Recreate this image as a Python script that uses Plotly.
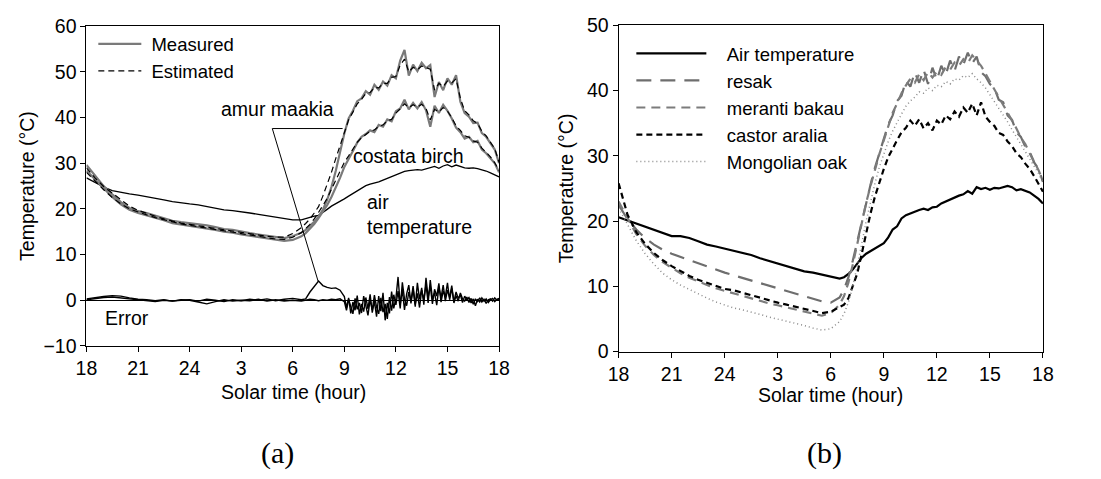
import plotly.graph_objects as go

# ---------------- shared x grid (hours after 18:00 solar time) ----------------
HOURS = [0, 0.5, 1, 1.5, 2, 2.5, 3, 3.5, 4, 4.5, 5, 5.5, 6, 6.5, 7, 7.5, 8, 8.5, 9, 9.5,
         10, 10.5, 11, 11.5, 12, 12.5,
         12.75, 13, 13.25, 13.5, 13.75, 14, 14.25, 14.5, 14.75,
         15, 15.25, 15.5, 15.75, 16, 16.25, 16.5, 16.75, 17, 17.25, 17.5, 17.75, 18,
         18.25, 18.5, 18.75, 19, 19.25, 19.5, 19.75, 20, 20.25, 20.5, 20.75, 21,
         21.25, 21.5, 21.75, 22, 22.25, 22.5, 22.75, 23, 23.25, 23.5, 23.75, 24]
# finer grid used for the (very noisy) error curves after 15 h
ERR_HOURS = HOURS[:35] + [
    15, 15.125, 15.25, 15.375, 15.5, 15.625, 15.75, 15.875,
    16, 16.125, 16.25, 16.375, 16.5, 16.625, 16.75, 16.875,
    17, 17.125, 17.25, 17.375, 17.5, 17.625, 17.75, 17.875,
    18, 18.125, 18.25, 18.375, 18.5, 18.625, 18.75, 18.875,
    19, 19.125, 19.25, 19.375, 19.5, 19.625, 19.75, 19.875,
    20, 20.125, 20.25, 20.375, 20.5, 20.625, 20.75, 20.875,
    21, 21.125, 21.25, 21.375, 21.5, 21.625, 21.75, 21.875,
    22, 22.125, 22.25, 22.375, 22.5, 22.625, 22.75, 22.875,
    23, 23.125, 23.25, 23.375, 23.5, 23.625, 23.75, 23.875,
    24]
TICK_POS = [0, 3, 6, 9, 12, 15, 18, 21, 24]
TICK_TEXT = ["18", "21", "24", "3", "6", "9", "12", "15", "18"]

# ---------------- panel (a) ----------------
A_AIR = [26.8, 25.8, 24.8, 24.0, 23.6, 23.3, 23.0, 22.7, 22.3, 22.0, 21.6, 21.3, 21.1, 20.9,
         20.5, 20.1, 19.8, 19.6, 19.4, 19.1, 18.8, 18.5, 18.2, 17.8, 17.6, 17.6,
         17.9, 18.2, 18.4, 18.6, 19.2, 19.9, 20.6, 21.1, 21.7,
         22.2, 22.8, 23.4, 24.0, 24.6, 25.1, 25.4, 25.6, 25.9, 26.3, 26.7, 27.1, 27.5,
         27.9, 28.2, 28.4, 28.5, 28.6, 28.5, 28.8, 29.1, 29.3, 28.9, 29.4, 29.7, 29.2,
         29.6, 29.3, 29.0, 28.9, 29.0, 28.8, 28.6, 28.3, 27.9, 27.4, 27.0]
A_AMUR_MEAS = [29.6, 27.2, 25.0, 23.2, 21.5, 20.2, 19.5, 19.1, 18.5, 17.9, 17.4, 17.1, 16.9,
               16.6, 16.4, 16.0, 15.6, 15.4, 15.0, 14.7, 14.4, 14.1, 13.9, 13.6, 14.0, 14.8,
               15.4, 16.2, 17.2, 18.3, 19.8, 22.0, 24.8, 28.3, 32.5,
               36.5, 39.8, 41.5, 43.6, 44.2, 45.8, 45.0, 47.2, 46.1, 47.9, 47.0, 49.3, 48.6,
               52.5, 54.8, 49.2, 51.6, 50.2, 52.0, 50.8, 51.5, 44.5, 47.8, 46.0, 48.6, 47.2,
               49.3, 43.5, 41.0, 40.2, 38.8, 38.9, 36.6, 35.8, 34.5, 33.0, 30.0]
A_AMUR_EST = [29.0, 26.8, 24.9, 23.4, 21.9, 20.6, 19.7, 19.0, 18.4, 17.8, 17.3, 16.9, 16.6,
              16.3, 16.0, 15.7, 15.4, 15.1, 14.8, 14.5, 14.2, 14.0, 13.8, 13.8, 14.6, 15.9,
              16.8, 17.8, 19.1, 20.5, 22.8, 25.3, 28.0, 31.0, 34.0,
              36.8, 39.5, 41.2, 43.0, 44.0, 45.3, 45.5, 46.6, 46.5, 47.5, 47.5, 48.8, 49.0,
              51.5, 52.8, 50.0, 51.0, 50.5, 51.3, 50.9, 50.6, 46.0, 47.5, 46.8, 48.0, 47.6,
              48.5, 44.2, 41.5, 40.6, 39.3, 38.7, 37.0, 36.0, 34.6, 33.2, 30.2]
A_BIRCH_MEAS = [28.4, 26.4, 24.5, 22.6, 21.0, 19.8, 19.1, 18.6, 18.0, 17.5, 16.9, 16.6, 16.4,
                16.1, 15.8, 15.4, 15.0, 14.8, 14.4, 14.1, 13.8, 13.5, 13.2, 13.0, 13.2, 14.0,
                14.7, 15.6, 16.7, 18.0, 19.4, 20.8, 22.6, 24.6, 26.8,
                29.2, 30.8, 32.7, 34.5, 35.8, 36.4, 37.2, 36.8, 38.4, 38.0, 39.6, 39.2, 41.4,
                42.0, 43.9, 41.8, 43.2, 42.0, 43.4, 41.6, 38.0, 42.6, 41.0, 42.8, 41.5, 39.8,
                37.8, 36.8, 35.4, 35.8, 34.6, 34.9, 33.0, 32.2, 31.2, 30.0, 28.0]
A_BIRCH_EST = [28.0, 26.0, 24.2, 22.5, 21.1, 20.0, 19.3, 18.7, 18.1, 17.6, 17.1, 16.7, 16.4,
               16.1, 15.8, 15.5, 15.2, 14.9, 14.6, 14.3, 14.0, 13.7, 13.4, 13.3, 13.8, 14.8,
               15.6, 16.6, 17.8, 19.2, 20.7, 22.3, 24.2, 26.2, 28.2,
               30.2, 31.6, 33.2, 34.6, 35.6, 36.4, 37.0, 37.3, 38.1, 38.4, 39.3, 39.6, 41.0,
               41.9, 43.0, 42.2, 42.8, 42.3, 42.9, 42.0, 39.5, 41.8, 41.2, 42.2, 41.4, 40.0,
               38.2, 37.2, 36.0, 35.7, 34.9, 34.6, 33.3, 32.4, 31.4, 30.1, 28.4]
A_ERR_AMUR = [0.3, 0.6, 0.8, 1.0, 0.9, 0.5, 0.2, 0.1, -0.1, 0.1, -0.2, 0.0, 0.1, -0.2, 0.2,
              0.0, -0.3, 0.1, -0.1, 0.2, 0.0, 0.3, -0.1, 0.2, 0.4, 0.1,
              0.3, 1.8, 3.0, 4.2, 3.2, 2.8, 2.6, 2.7, 2.2,
              0.8, -1.6, 0.5, -2.9, -0.4, -2.2, 1.0, -3.1,
              -0.8, -2.5, 0.6, -1.9, 1.3, -2.7, -0.2, -3.6,
              0.9, -2.4, 1.6, -4.4, -0.6, -2.9, 1.9, -1.8,
              0.4, 5.1, -0.9, 2.2, -2.1, 1.4, 3.3, -0.7,
              2.5, -1.4, 3.8, 0.2, 2.7, -1.0, 4.9, 0.6,
              3.1, -0.8, 2.4, 0.9, 3.7, -0.4, 2.0, 0.8,
              3.8, 0.1, 2.6, -0.3, 1.8, 0.4, 1.2, -0.5,
              0.9, 0.1, 0.6, -0.6, 0.3, -1.2, 0.2, -0.4,
              0.5, -0.2, 0.3, -0.5, 0.1, 0.4, -0.3, 0.2,
              0.4]
A_ERR_BIRCH = [0.1, 0.4, 0.6, 0.7, 0.5, 0.3, 0.0, -0.2, -0.3, 0.0, -0.2, 0.1, 0.0, -0.4, -0.8,
               -0.3, 0.1, -0.2, 0.0, -0.1, 0.2, -0.2, 0.1, -0.2, 0.0, -0.2,
               0.0, 0.2, 0.1, -0.1, 0.1, 0.0, 0.2, 0.1, 0.3,
               -0.3, -2.2, 0.2, -1.4, -3.0, 0.4, -2.0, -0.6,
               -2.8, 0.9, -1.2, -3.3, 0.2, -2.1, 1.1, -1.5,
               -3.0, 0.5, -2.6, -0.8, -4.1, 0.7, -2.3, 1.2,
               -1.0, 2.0, -1.8, 3.9, 0.3, -1.2, 1.8, -0.3,
               3.1, -0.9, 1.5, -1.6, 2.2, 0.1, 3.4, -0.6,
               4.4, 0.3, 1.6, -1.1, 2.8, 0.5, 3.3, -0.2,
               2.2, 0.6, 3.2, -0.6, 1.0, -0.2, 1.6, 0.3,
               -0.2, 0.7, -0.5, 0.4, -0.9, 0.3, -0.3, 0.5,
               -0.4, 0.2, -0.7, 0.1, 0.3, -0.2, 0.5, 0.0,
               0.3]

# ---------------- panel (b) ----------------
B_AIR = [20.6, 20.1, 19.6, 19.1, 18.6, 18.1, 17.7, 17.7, 17.4, 16.9, 16.4, 16.1, 15.8, 15.5,
         15.2, 14.8, 14.3, 13.9, 13.5, 13.1, 12.7, 12.3, 12.1, 11.8, 11.6, 11.2,
         11.4, 11.9, 12.6, 13.5, 14.4, 15.0, 15.4, 15.7, 16.1,
         16.6, 17.5, 18.7, 19.2, 20.4, 20.9, 21.2, 21.5, 21.7, 21.9, 21.7, 22.1, 22.2,
         22.7, 23.0, 23.3, 23.7, 23.9, 24.1, 24.6, 24.2, 25.2, 24.9, 25.1, 24.8, 25.1,
         25.0, 25.2, 25.4, 25.2, 24.7, 24.9, 24.7, 24.4, 23.9, 23.4, 22.7]
B_RESAK = [22.5, 20.3, 18.7, 17.4, 16.4, 15.6, 15.0, 14.5, 14.0, 13.5, 13.0, 12.5, 12.1, 11.7,
           11.3, 10.9, 10.5, 10.1, 9.7, 9.3, 8.9, 8.5, 8.1, 7.7, 7.5, 8.3,
           9.5, 11.4, 14.0, 17.0, 20.0, 23.0, 25.6, 28.2, 30.5,
           32.6, 34.8, 36.2, 38.4, 39.2, 41.5, 40.6, 42.8, 41.2, 43.2, 41.0, 43.5, 41.6,
           43.8, 42.4, 44.6, 43.0, 45.2, 44.0, 45.8, 44.2, 45.2, 42.8, 42.2, 41.0, 40.4,
           38.6, 38.2, 36.2, 35.5, 33.6, 32.9, 31.4, 30.6, 29.0, 28.0, 26.0]
B_MERANTI = [23.0, 20.4, 18.0, 16.2, 14.8, 13.7, 12.8, 12.0, 11.3, 10.7, 10.2, 9.7, 9.3, 8.9,
             8.6, 8.2, 7.8, 7.4, 7.1, 6.8, 6.5, 6.1, 5.8, 5.5, 5.9, 7.2,
             8.5, 10.6, 13.4, 16.6, 19.8, 22.8, 25.4, 28.0, 30.3,
             32.4, 34.5, 36.6, 38.0, 39.6, 40.8, 41.8, 41.2, 42.5, 41.6, 42.8, 42.0, 42.9,
             42.4, 43.6, 43.2, 44.3, 43.8, 44.8, 44.2, 45.4, 44.6, 43.8, 42.6, 41.4, 40.4,
             39.2, 37.9, 36.8, 35.4, 34.2, 32.8, 31.8, 30.4, 29.2, 27.8, 26.2]
B_CASTOR = [25.8, 21.0, 18.3, 16.5, 15.1, 14.0, 13.1, 12.3, 11.6, 11.0, 10.5, 10.0, 9.6, 9.4,
            9.0, 8.6, 8.2, 7.8, 7.5, 7.2, 6.9, 6.5, 6.2, 5.9, 6.1, 6.8,
            7.2, 8.2, 10.0, 12.0, 15.0, 18.2, 21.2, 23.8, 26.0,
            28.0, 29.8, 31.2, 32.4, 33.6, 34.3, 35.4, 34.6, 35.6, 34.2, 35.0, 33.9, 35.4,
            34.8, 36.2, 35.6, 36.8, 36.0, 37.4, 36.6, 38.0, 36.2, 38.2, 36.0, 35.2, 34.6,
            33.5, 33.2, 32.2, 31.5, 30.4, 29.8, 28.8, 28.0, 26.9, 25.8, 24.5]
B_OAK = [22.0, 19.4, 17.0, 15.0, 13.4, 12.0, 11.0, 10.2, 9.5, 8.8, 8.2, 7.6, 7.1, 6.7,
         6.4, 6.1, 5.7, 5.3, 5.0, 4.6, 4.3, 4.0, 3.6, 3.3, 3.5, 4.6,
         5.8, 7.6, 10.0, 13.0, 16.5, 20.0, 23.0, 25.8, 28.3,
         30.4, 32.2, 33.8, 35.2, 36.4, 37.6, 38.4, 39.0, 39.8, 39.6, 40.4, 40.0, 40.8,
         40.6, 41.4, 41.0, 41.8, 41.6, 42.3, 42.0, 42.6, 41.8, 41.2, 40.4, 39.4, 38.4,
         37.4, 36.3, 35.2, 34.0, 32.9, 31.8, 30.8, 29.7, 28.6, 27.3, 25.8]

FONT = "Liberation Sans, Arial, sans-serif"
SERIF = "Liberation Serif, Times New Roman, serif"
FS = 19.5
LFS = 18.5
GRAY = "#7a7a7a"
NB = "\u00a0"

fig = go.Figure()

def add(x, y, xa, ya, color, width, dash="solid", name=None, legend=None, show=False):
    fig.add_trace(go.Scatter(x=x, y=y, xaxis=xa, yaxis=ya, mode="lines",
                             line=dict(color=color, width=width, dash=dash),
                             name=name, showlegend=show, legend=legend,
                             hoverinfo="skip"))

# panel (a)
add(HOURS, A_AIR, "x", "y", "black", 1.3)
add(ERR_HOURS, A_ERR_BIRCH, "x", "y", "black", 1.4)
add(ERR_HOURS, A_ERR_AMUR, "x", "y", "black", 1.4)
add(HOURS, A_BIRCH_MEAS, "x", "y", GRAY, 2.2)
add(HOURS, A_AMUR_MEAS, "x", "y", GRAY, 2.2, name=NB + "Measured", legend="legend", show=True)
add(HOURS, A_BIRCH_EST, "x", "y", "black", 1.2, dash="6px,4px")
add(HOURS, A_AMUR_EST, "x", "y", "black", 1.2, dash="6px,4px", name=NB + "Estimated",
    legend="legend", show=True)

# panel (b)
pad = NB * 3
add(HOURS, B_AIR, "x2", "y2", "black", 2.2, name=pad + "Air temperature", legend="legend2", show=True)
add(HOURS, B_RESAK, "x2", "y2", "#6e6e6e", 2.2, dash="15px,9px", name=pad + "resak",
    legend="legend2", show=True)
add(HOURS, B_MERANTI, "x2", "y2", "#7c7c7c", 2.2, dash="9px,6px", name=pad + "meranti bakau",
    legend="legend2", show=True)
add(HOURS, B_CASTOR, "x2", "y2", "black", 2.2, dash="6px,4px", name=pad + "castor aralia",
    legend="legend2", show=True)
add(HOURS, B_OAK, "x2", "y2", "#8a8a8a", 1.5, dash="1px,3px", name=pad + "Mongolian oak",
    legend="legend2", show=True)

W, H = 1101, 479
def px_x(p):
    return p / W
def px_y(p):
    return 1 - p / H

axis_common = dict(showline=True, linecolor="black", linewidth=1, mirror=True,
                   ticks="outside", ticklen=5, tickwidth=1, tickcolor="black",
                   showgrid=False, zeroline=False,
                   tickfont=dict(family=FONT, size=FS, color="black"),
                   title_font=dict(family=FONT, size=FS, color="black"))

fig.update_layout(
    width=W, height=H,
    margin=dict(l=0, r=0, t=0, b=0),
    paper_bgcolor="white", plot_bgcolor="white",
    font=dict(family=FONT, size=FS, color="black"),
    xaxis=dict(domain=[px_x(77), px_x(498)], range=[0, 24], tickvals=TICK_POS,
               ticktext=TICK_TEXT, anchor="y", **axis_common),
    yaxis=dict(domain=[px_y(351), px_y(16)], range=[-10, 60], dtick=10, anchor="x",
               title=dict(text="Temperature (°C)", standoff=3), **axis_common),
    xaxis2=dict(domain=[px_x(620), px_x(1053)], range=[0, 24], tickvals=TICK_POS,
                ticktext=TICK_TEXT, anchor="y2", **axis_common),
    yaxis2=dict(domain=[px_y(357), px_y(15)], range=[0, 50], dtick=10, anchor="x2",
                title=dict(text="Temperature (°C)", standoff=8), **axis_common),
    legend=dict(x=px_x(84), y=px_y(15), xanchor="left", yanchor="top",
                bgcolor="rgba(0,0,0,0)", itemwidth=43, tracegroupgap=0,
                font=dict(family=FONT, size=LFS, color="black")),
    legend2=dict(x=px_x(633), y=px_y(25), xanchor="left", yanchor="top",
                 bgcolor="rgba(0,0,0,0)", itemwidth=70, tracegroupgap=0,
                 font=dict(family=FONT, size=LFS, color="black")),
)
fig.layout.yaxis.zeroline = True
fig.layout.yaxis.zerolinecolor = "black"
fig.layout.yaxis.zerolinewidth = 1

# annotation pointer lines for amur maakia
fig.add_shape(type="line", xref="x", yref="y", x0=10.81, y0=37.6, x1=14.9, y1=37.6,
              line=dict(color="black", width=1))
fig.add_shape(type="line", xref="x", yref="y", x0=10.81, y0=37.6, x1=13.48, y1=4.1,
              line=dict(color="black", width=1))

def label(text, x, y, xref="x", yref="y", xanchor="center", size=FS, family=FONT, align="left"):
    fig.add_annotation(text=text, x=x, y=y, xref=xref, yref=yref, xanchor=xanchor,
                       yanchor="middle", showarrow=False, align=align,
                       font=dict(family=family, size=size, color="black"))

label("amur maakia", 11.1, 41.8)
label("costata birch", 18.76, 31.6)
label("air<br>temperature", 16.2, 18.8, xanchor="left")
label("Error", 0.97, -3.9, xanchor="left")

# x-axis titles
label("Solar time (hour)", px_x(288), px_y(399), xref="paper", yref="paper")
label("Solar time (hour)", px_x(836), px_y(403), xref="paper", yref="paper")

label("(a)", px_x(272), px_y(463), xref="paper", yref="paper", size=30, family=SERIF)
label("(b)", px_x(830), px_y(463), xref="paper", yref="paper", size=30, family=SERIF)

fig.write_html("out.html")
